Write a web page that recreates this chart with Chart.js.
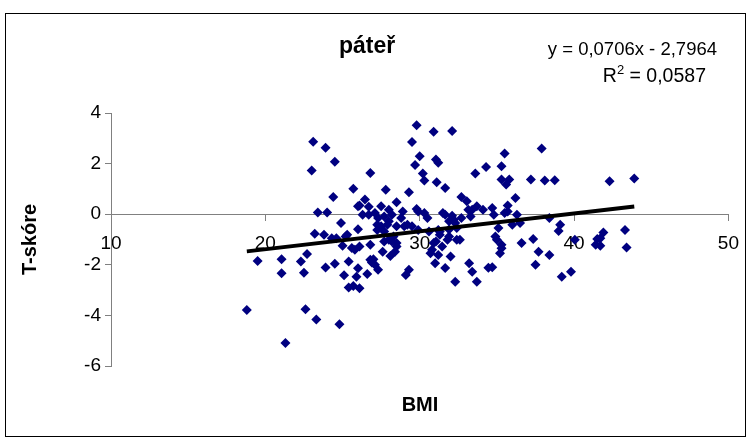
<!DOCTYPE html>
<html>
<head>
<meta charset="utf-8">
<script src="https://cdn.jsdelivr.net/npm/chart.js@4/dist/chart.umd.min.js"></script>
<style>
  body { margin: 0; background: #fff; }
  canvas { display: block; }
</style>
</head>
<body>
<canvas id="bmiChart" width="751" height="438"></canvas>
<script>
// BMI vs T-skóre (páteř)
const bmi = [
  23.4, 24.0, 24.9, 23.2, 23.8, 24.3, 24.6, 25.3, 25.0, 22.7,
  19.5, 21.05, 22.3, 21.05, 22.5, 23.9, 24.5, 25.1, 25.4, 25.4,
  25.7, 18.8, 22.6, 23.3, 24.8, 21.3, 23.1, 23.9, 24.5, 23.0,
  25.7, 24.4, 26.0, 26.8, 27.8, 26.45, 26.1, 26.7, 27.5, 28.5,
  26.7, 28.0, 27.3, 27.5, 28.0, 28.5, 25.2, 26.0, 27.7, 28.3,
  25.6, 26.1, 26.8, 27.6, 28.1, 26.0, 26.9, 27.3, 25.9, 26.6,
  26.1, 29.8, 30.9, 32.1, 29.5, 30.0, 31.05, 31.2, 29.7, 30.2,
  30.3, 33.6, 31.1, 31.65, 29.3, 32.7, 33.05, 29.8, 30.3, 30.5,
  31.5, 32.1, 33.4, 33.3, 32.3, 34.3, 33.7, 34.1, 31.9, 32.4,
  28.8, 29.0, 31.3, 31.8, 32.6, 30.8, 31.2, 32.0, 31.0, 31.65,
  33.2, 33.4, 32.3, 33.7, 29.3, 29.1, 34.45, 27.0, 28.4, 25.8,
  31.05, 26.3, 27.25, 27.9, 29.2, 27.7, 28.2, 28.5, 31.3, 31.9,
  37.9, 35.5, 35.3, 35.3, 35.8, 35.6, 37.2, 38.1, 38.75, 36.2,
  35.7, 34.7, 36.3, 35.5, 35.1, 36.0, 36.5, 38.4, 39.1, 39.0,
  34.9, 35.3, 35.2, 36.6, 37.35, 37.7, 38.4, 37.5, 34.7, 39.2,
  39.8, 35.3, 40.05, 41.5, 41.4, 41.9, 41.7, 41.7, 43.3, 43.4,
  42.3, 43.9, 27.1, 27.7, 28.2, 27.25, 28.0, 28.5, 26.8, 27.1,
  28.9, 29.9, 31.65, 32.2, 32.7, 33.15, 31.2, 31.9, 30.9, 31.45,
  32.4, 30.7, 29.5, 29.9, 30.6, 34.8, 35.0, 35.7
];
const tScore = [
  0.07, 0.07, -0.35, -0.77, -0.81, -0.95, -0.95, -0.81, -1.25, -1.57,
  -1.85, -1.78, -1.87, -2.33, -2.31, -2.11, -1.96, -2.41, -1.87, -2.9,
  -2.84, -3.79, -3.76, -4.16, -4.35, -5.09, 2.86, 2.63, 2.07, 1.73,
  1.01, 0.68, 0.31, 1.63, 0.97, 0.58, 0.34, 0.29, 0.31, 0.47,
  -0.02, 0.18, -0.15, -0.48, -0.28, -0.48, -0.88, -0.59, -0.68, -0.88,
  -1.34, -1.28, -1.21, -1.48, -1.65, -2.14, -1.91, -2.2, -2.47, -2.36,
  -2.93, 3.52, 3.26, 3.29, 2.85, 2.29, 2.16, 2.03, 1.94, 1.61,
  1.33, 1.61, 1.26, 1.04, 0.87, 0.68, 0.51, 0.21, 0.05, -0.15,
  0.05, -0.06, 0.18, -0.09, -0.35, 1.87, 0.31, 0.18, -0.28, -0.55,
  -0.15, -0.48, -0.81, -1.01, -1.01, -1.41, -1.61, -1.67, -1.94, -2.13,
  -1.94, -2.27, -2.67, -2.67, -2.2, -2.4, -2.12, -1.78, -1.48, -1.41,
  -1.08, -0.02, -0.42, -0.42, -0.42, -1.08, -1.08, -1.14, -0.68, -0.6,
  2.6, 2.4, 1.9, 1.37, 1.37, 1.17, 1.37, 1.33, 1.34, 0.64,
  0.34, 0.25, -0.02, 0.05, -0.55, -0.42, -0.35, -0.15, -0.42, -0.66,
  -0.88, -1.21, -1.54, -1.14, -0.98, -1.48, -1.61, -2.0, -2.1, -2.47,
  -2.27, -1.35, -1.01, -0.98, -1.21, -0.72, -0.95, -1.25, -0.62, -1.32,
  1.3, 1.41, 0.05, -0.09, -0.02, -0.62, -1.01, -1.28, -1.8, -2.0,
  0.11, 0.11, -0.02, -0.22, -0.15, 0.18, -0.62, -0.88, -1.14, -1.28,
  -1.01, -1.54, -0.48, -0.62, -0.68, -0.02, -1.01, 0.11
];

// linear trend from the label in the picture
const slope = 0.0706;
const intercept = -2.7964;
const trendX = [18.8, 43.9];

const xTicks = [10, 20, 30, 40, 50];
const yTicks = [4, 2, 0, -2, -4, -6];

const FONT = "'Liberation Sans', Arial, sans-serif";

const points = bmi.map((x, i) => ({ x: x, y: tScore[i] }));
const trend = trendX.map(x => ({ x: x, y: slope * x + intercept }));

const chartFrame = {
  id: 'chartFrame',
  beforeDraw(chart) {
    const ctx = chart.ctx;
    ctx.save();
    ctx.fillStyle = '#fff';
    ctx.fillRect(0, 0, chart.width, chart.height);
    ctx.strokeStyle = '#000';
    ctx.lineWidth = 1;
    ctx.strokeRect(5.5, 13.5, 740, 423);
    ctx.restore();
  },
  afterDraw(chart) {
    const ctx = chart.ctx;
    ctx.save();
    ctx.fillStyle = '#000';
    ctx.textBaseline = 'middle';

    ctx.font = 'bold 23px ' + FONT;
    ctx.textAlign = 'center';
    ctx.fillText('páteř', 367, 47);

    ctx.font = 'bold 20px ' + FONT;
    ctx.fillText('BMI', 420, 405);

    // trendline label
    ctx.font = '18.5px ' + FONT;
    ctx.textAlign = 'right';
    ctx.fillText('y = 0,0706x - 2,7964', 717, 50);
    ctx.font = '19.5px ' + FONT;
    const rest = ' = 0,0587';
    const restW = ctx.measureText(rest).width;
    ctx.fillText(rest, 706, 77);
    ctx.font = '13px ' + FONT;
    const supW = ctx.measureText('2').width;
    ctx.fillText('2', 706 - restW, 70);
    ctx.font = '19.5px ' + FONT;
    ctx.fillText('R', 706 - restW - supW, 77);
    ctx.restore();
  }
};

new Chart(document.getElementById('bmiChart'), {
  data: {
    datasets: [{
      type: 'line',
      label: 'trend',
      data: trend,
      borderColor: '#000',
      borderWidth: 4,
      pointRadius: 0,
      fill: false,
      order: 0
    }, {
      type: 'scatter',
      label: 'páteř',
      data: points,
      pointStyle: 'rectRot',
      pointRadius: 5,
      pointBackgroundColor: '#000080',
      pointBorderColor: '#000080',
      pointBorderWidth: 0,
      order: 1
    }]
  },
  options: {
    responsive: false,
    animation: false,
    layout: { padding: { left: 6, right: 20, top: 113, bottom: 72 } },
    plugins: {
      legend: { display: false },
      tooltip: { enabled: false }
    },
    scales: {
      x: {
        type: 'linear',
        position: { y: 0 },
        min: 10,
        max: 50,
        afterFit: s => { s.height = 0; },
        afterBuildTicks: s => { s.ticks = xTicks.map(v => ({ value: v })); },
        grid: { display: true, drawOnChartArea: false, drawTicks: true, tickLength: 6, color: '#808080' },
        border: { display: true, color: '#808080', width: 1 },
        ticks: { color: '#000', padding: 12, maxRotation: 0, font: { family: FONT, size: 19 } }
      },
      y: {
        type: 'linear',
        min: -6,
        max: 4,
        afterFit: s => { s.width = 105; },
        afterBuildTicks: s => { s.ticks = yTicks.map(v => ({ value: v })); },
        grid: { display: true, drawOnChartArea: false, drawTicks: true, tickLength: 6, color: '#808080' },
        border: { display: true, color: '#808080', width: 1 },
        ticks: { color: '#000', padding: 4, font: { family: FONT, size: 19 } },
        title: {
          display: true,
          text: 'T-skóre',
          color: '#000',
          padding: { top: 12, bottom: 0 },
          font: { family: FONT, size: 20, weight: 'bold' }
        }
      }
    }
  },
  plugins: [chartFrame]
});
</script>
</body>
</html>
